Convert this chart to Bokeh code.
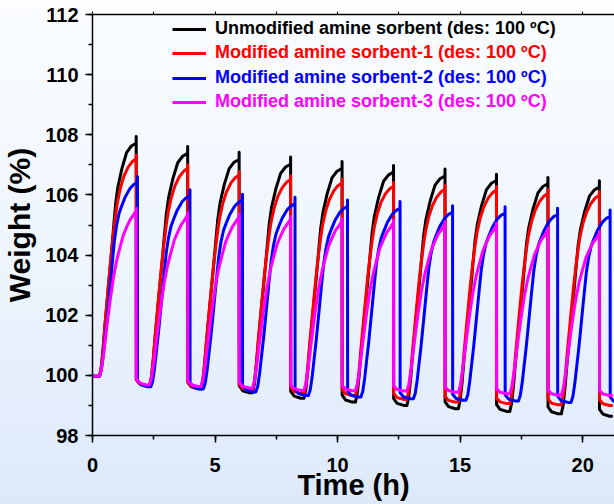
import numpy as np
from bokeh.plotting import figure
from bokeh.models import Legend, LegendItem, LinearAxis, SingleIntervalTicker, Range1d
from bokeh.embed import file_html
from bokeh.resources import INLINE

# ---------------- data ----------------
series_names = [
    "Unmodified amine sorbent (des: 100 \u00baC)",
    "Modified amine sorbent-1 (des: 100 \u00baC)",
    "Modified amine sorbent-2 (des: 100 \u00baC)",
    "Modified amine sorbent-3 (des: 100 \u00baC)",
]
series_colors = ["#000000", "#ff0000", "#0000ff", "#ff00ff"]

initial_weight = 99.97
first_rise_start = 0.285          # h
first_peak = [1.78, 1.78, 1.83, 1.78]   # h, end of 1st adsorption step
cycle_period = [2.10, 2.10, 2.143, 2.10]  # h

# value just before switching to desorption, per cycle
black_top = [107.72, 107.38, 107.18, 107.02, 106.88, 106.76, 106.63, 106.48, 106.37, 106.26]
red_top = [107.20, 106.88, 106.66, 106.51, 106.40, 106.29, 106.19, 106.16, 106.05, 105.99]
blue_top = [106.41, 105.97, 105.82, 105.70, 105.61, 105.55, 105.42, 105.39, 105.34, 105.28]
mag_top = [105.48, 105.33, 105.28, 105.20, 105.14, 105.08, 105.03, 104.98, 104.82, 104.71]

# short spike at the switch
black_spike = [107.94, 107.61, 107.42, 107.26, 107.11, 106.98, 106.86, 106.69, 106.58, 106.47]
red_spike = [107.33, 107.00, 106.78, 106.63, 106.52, 106.41, 106.31, 106.28, 106.17, 106.11]
blue_spike = [106.61, 106.17, 106.02, 105.92, 105.83, 105.78, 105.64, 105.61, 105.56, 105.50]
mag_spike = [105.56, 105.41, 105.36, 105.28, 105.22, 105.16, 105.11, 105.06, 104.89, 104.78]

# value right after the drop
black_drop = [99.85, 99.77, 99.65, 99.47, 99.34, 99.23, 99.12, 99.03, 98.95, 98.87]
red_drop = [99.86, 99.78, 99.70, 99.60, 99.52, 99.40, 99.30, 99.25, 99.21, 99.19]
blue_drop = [99.84, 99.76, 99.66, 99.54, 99.48, 99.42, 99.37, 99.35, 99.30, 99.28]
mag_drop = [99.89, 99.82, 99.76, 99.68, 99.66, 99.65, 99.61, 99.56, 99.51, 99.50]

# minimum during desorption
black_low = [99.65, 99.55, 99.42, 99.24, 99.11, 99.00, 98.89, 98.80, 98.72, 98.64]
red_low = [99.66, 99.58, 99.50, 99.40, 99.33, 99.20, 99.11, 99.06, 99.02, 99.00]
blue_low = [99.62, 99.55, 99.45, 99.33, 99.28, 99.22, 99.17, 99.15, 99.10, 99.08]
mag_low = [99.68, 99.63, 99.58, 99.50, 99.49, 99.48, 99.44, 99.39, 99.34, 99.33]

# shape of the adsorption step (fraction of step time, fraction of step height)
black_prof_u = [0, .05, .10, .15, .20, .25, .32, .38, .44, .50, .61, .74, .87, 1.0]
black_prof_f = [0, .04, .12, .22, .31, .40, .518, .63, .74, .81, .89, .96, .988, 1.0]
red_prof_u = [0, .05, .10, .15, .20, .25, .317, .383, .44, .49, .577, .667, .783, .90, 1.0]
red_prof_f = [0, .043, .129, .236, .332, .429, .556, .66, .74, .80, .87, .92, .962, .988, 1.0]
blue_prof_u = [0, .048, .097, .145, .194, .242, .335, .394, .452, .516, .587, .677, .806, .903, 1.0]
blue_prof_f = [0, .03, .10, .19, .28, .38, .58, .70, .78, .84, .88, .925, .97, .99, 1.0]
mag_prof_u = [0, .05, .11, .197, .29, .383, .47, .563, .65, .743, .83, .923, 1.0]
mag_prof_f = [0, .04, .131, .294, .456, .599, .70, .781, .852, .901, .943, .972, 1.0]

x_tick_step = 5
y_tick_step = 2


def build(fp, period, top, spike, drop, low, pu, pf):
    t = [0.0, first_rise_start]
    v = [initial_weight, initial_weight]
    base = initial_weight
    start = first_rise_start
    for k in range(len(top)):
        tp = fp + k * period
        dur = tp - start
        for u, f in zip(pu[1:], pf[1:]):
            t.append(start + u * dur)
            v.append(base + f * (top[k] - base))
        t += [tp + 0.004, tp + 0.008, tp + 0.15, tp + 0.42, tp + 0.55]
        v += [spike[k], drop[k], low[k] + 0.3 * (drop[k] - low[k]), low[k], low[k]]
        base = low[k]
        start = tp + 0.55
    return t, v


all_data = [
    build(first_peak[0], cycle_period[0], black_top, black_spike, black_drop, black_low, black_prof_u, black_prof_f),
    build(first_peak[1], cycle_period[1], red_top, red_spike, red_drop, red_low, red_prof_u, red_prof_f),
    build(first_peak[2], cycle_period[2], blue_top, blue_spike, blue_drop, blue_low, blue_prof_u, blue_prof_f),
    build(first_peak[3], cycle_period[3], mag_top, mag_spike, mag_drop, mag_low, mag_prof_u, mag_prof_f),
]

FONT = "Liberation Sans"

p = figure(width=614, height=504, x_range=Range1d(0, 21.3), y_range=Range1d(98, 112),
           output_backend="svg", toolbar_location=None,
           min_border_left=92, min_border_right=0, min_border_top=14, min_border_bottom=69,
           x_axis_label="Time (h)", y_axis_label="Weight (%)")
p.grid.visible = False
p.outline_line_color = None
p.background_fill_alpha = 0
p.border_fill_alpha = 0
p.styles = {"background": "linear-gradient(to bottom, #fbfdff 0%, #eef5fd 50%, #dde9fa 100%)"}

p.xaxis.ticker = SingleIntervalTicker(interval=x_tick_step, num_minor_ticks=2)
p.yaxis.ticker = SingleIntervalTicker(interval=y_tick_step, num_minor_ticks=2)
for ax in (p.xaxis[0], p.yaxis[0]):
    ax.axis_line_width = 1.5
    ax.major_tick_line_width = 1.5
    ax.minor_tick_line_width = 1.5
    ax.major_tick_in = 0
    ax.major_tick_out = 7
    ax.minor_tick_in = 0
    ax.minor_tick_out = 4
    ax.major_label_text_font = FONT
    ax.major_label_text_font_style = "bold"
    ax.major_label_text_font_size = "20px"
    ax.major_label_text_color = "#000000"
    ax.axis_label_text_font = FONT
    ax.axis_label_text_font_style = "bold"
    ax.axis_label_text_color = "#000000"
p.xaxis.major_label_standoff = 15
p.yaxis.major_label_standoff = 7
p.xaxis.axis_label_text_font_size = "29px"
p.yaxis.axis_label_text_font_size = "30px"
p.xaxis.axis_label_standoff = -6
p.yaxis.axis_label_standoff = 6

top_ax = LinearAxis(ticker=SingleIntervalTicker(interval=2.5, num_minor_ticks=0))
top_ax.axis_line_width = 1.5
top_ax.major_tick_line_width = 1
top_ax.major_tick_in = 0
top_ax.major_tick_out = 3
top_ax.minor_tick_out = 0
top_ax.minor_tick_in = 0
top_ax.major_label_text_alpha = 0
top_ax.major_label_text_font_size = "1px"
top_ax.major_label_standoff = 0
p.add_layout(top_ax, "above")

renderers = []
for (t, v), c in zip(all_data, series_colors):
    r = p.line(t, v, line_color=c, line_width=3, line_join="round")
    renderers.append(r)

legend_rows_y = [396, 372, 347, 323]
for name, r, c, ly in zip(series_names, renderers, series_colors, legend_rows_y):
    leg = Legend(items=[LegendItem(label=name, renderers=[r])], location=(80, ly),
                 glyph_width=34, glyph_height=20, label_height=20, label_standoff=9,
                 padding=0, margin=0, spacing=0,
                 border_line_color=None, background_fill_alpha=0,
                 label_text_font=FONT, label_text_font_style="bold",
                 label_text_font_size="18px", label_text_color=c)
    p.add_layout(leg, "center")

open("out.html", "w").write(file_html(p, INLINE))
